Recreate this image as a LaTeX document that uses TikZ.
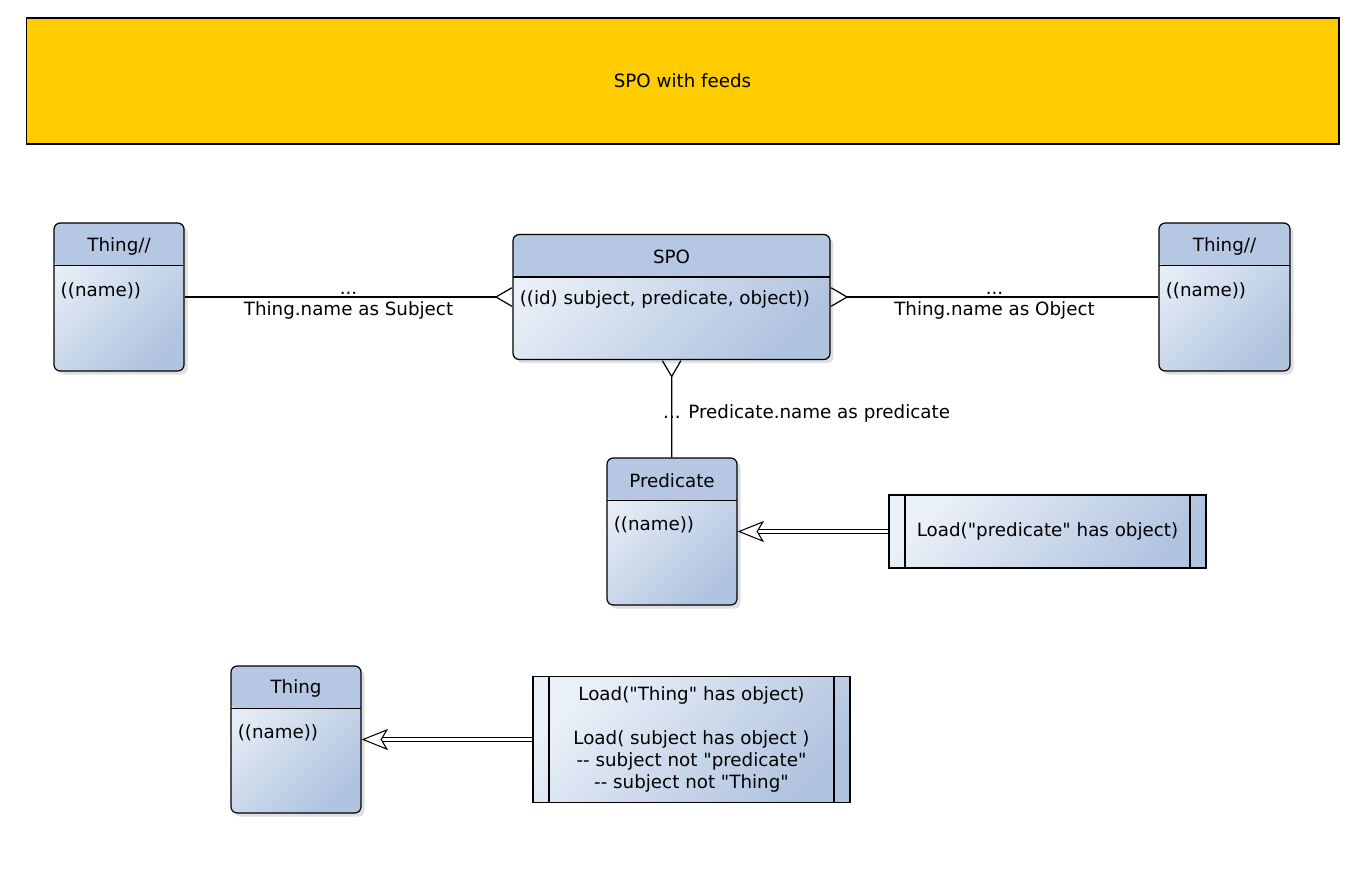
\documentclass[tikz,border=0pt]{standalone}
\usepackage{fontspec}
\setmainfont{DejaVu Sans}[Ligatures=TeXOff]
\usetikzlibrary{arrows.meta,positioning,shadows}

\definecolor{hdrblue}{RGB}{181,199,226}
\definecolor{lightblue}{RGB}{234,240,248}
\definecolor{darkblue}{RGB}{176,195,223}
\definecolor{feedgold}{RGB}{255,204,0}

\tikzset{
  crowfoot/.tip={Straight Barb[reversed,length=9pt,width=10.5pt]},
  entity/.style={draw,rounded corners=3.5pt,line width=0.7pt,
    top color=lightblue,bottom color=darkblue,shading angle=45,
    drop shadow={shadow xshift=2pt,shadow yshift=-2pt,opacity=0.25},
    path picture={
      \fill[hdrblue] (path picture bounding box.north west) rectangle ([yshift=-0.85cm]path picture bounding box.north east);
      \draw[line width=0.7pt] ([yshift=-0.85cm]path picture bounding box.north west) -- ([yshift=-0.85cm]path picture bounding box.north east);
    }},
  attr/.style={anchor=west,inner sep=0pt,xshift=0.14cm},
  loadbox/.style={draw,line width=0.7pt,align=center,
    top color=lightblue,bottom color=darkblue,shading angle=45,
    path picture={
      \draw[line width=0.7pt] ([xshift=0.32cm]path picture bounding box.north west) -- ([xshift=0.32cm]path picture bounding box.south west);
      \draw[line width=0.7pt] ([xshift=-0.32cm]path picture bounding box.north east) -- ([xshift=-0.32cm]path picture bounding box.south east);
    }},
  link/.style={line width=0.7pt},
  feed/.style={double,double distance=1.8pt,line width=0.6pt,
    -{Stealth[open,fill=white,length=15pt,width=12pt,inset=3.5pt]}}
}

\begin{document}
\begin{tikzpicture}[x=0.02cm,y=-0.02cm,font=\fontsize{10.4}{12.6}\selectfont]
  \useasboundingbox (0,0) rectangle (1368,880);

  % title
  \node[draw,line width=0.7pt,fill=feedgold,minimum width=26.26cm,minimum height=2.52cm] (title) at (682.5,81) {SPO with feeds};

  % tables
  \node[entity,minimum width=2.6cm,minimum height=2.96cm] (thingL) at (119,297) {};
  \node (thingLT) at ([yshift=-0.48cm]thingL.north) {Thing//};
  \node[attr] (thingLA) at ([yshift=-1.36cm]thingL.north west) {((name))};

  \node[entity,minimum width=6.34cm,minimum height=2.5cm] (spo) at (671.5,297) {};
  \node (spoT) at ([yshift=-0.46cm]spo.north) {SPO};
  \node[attr] (spoA) at ([yshift=-1.32cm]spo.north west) {((id) subject, predicate, object))};

  \node[entity,minimum width=2.62cm,minimum height=2.96cm] (thingR) at (1224.5,297) {};
  \node (thingRT) at ([yshift=-0.48cm]thingR.north) {Thing//};
  \node[attr] (thingRA) at ([yshift=-1.36cm]thingR.north west) {((name))};

  \node[entity,minimum width=2.6cm,minimum height=2.94cm] (pred) at (672,531.5) {};
  \node (predT) at ([yshift=-0.46cm]pred.north) {Predicate};
  \node[attr] (predA) at ([yshift=-1.34cm]pred.north west) {((name))};

  \node[entity,minimum width=2.6cm,minimum height=2.94cm] (thing) at (296,739.5) {};
  \node (thingT) at ([yshift=-0.46cm]thing.north) {Thing};
  \node[attr] (thingA) at ([yshift=-1.34cm]thing.north west) {((name))};

  % feeds
  \node[loadbox,minimum width=6.34cm,minimum height=1.46cm] (loadP) at (1047.5,531.5) {Load("predicate" has object)};
  \node[loadbox,minimum width=6.34cm,minimum height=2.52cm] (loadT) at (691.5,739.5)
    {Load("Thing" has object)\\[12.6pt]Load( subject has object )\\-- subject not "predicate"\\-- subject not "Thing"};

  % relations
  \draw[link,-{crowfoot}] (thingL) -- node[above,inner sep=1pt]{...} node[below,inner sep=2pt]{Thing.name as Subject} (spo);
  \draw[link,{crowfoot}-] (spo) -- node[above,inner sep=1pt]{...} node[below,inner sep=2pt]{Thing.name as Object} (thingR);
  \draw[link,{crowfoot}-] (spo) -- node[pos=0.545,right,xshift=-0.3cm]{... Predicate.name as predicate} (pred);

  \draw[feed] (loadP) -- (pred);
  \draw[feed] (loadT) -- (thing);
\end{tikzpicture}
\end{document}
